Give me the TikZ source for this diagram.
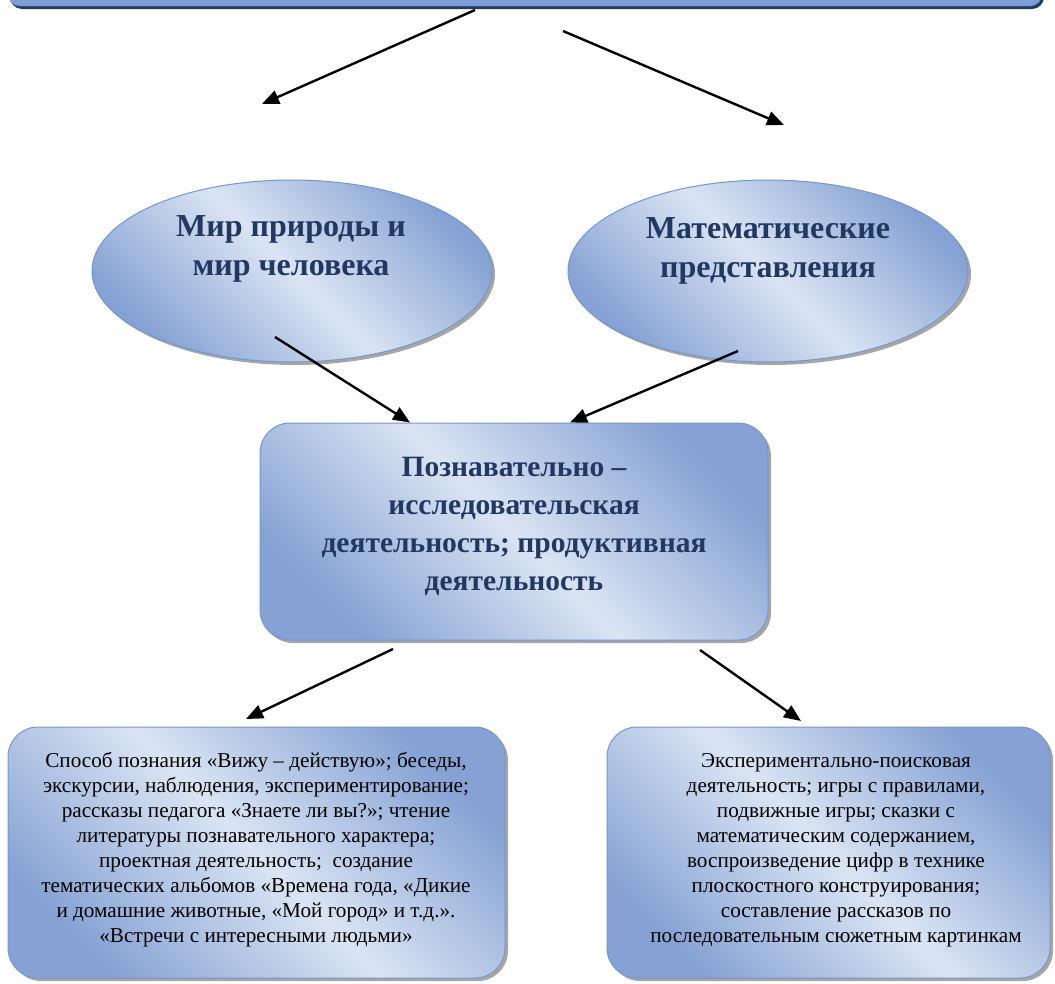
\documentclass[tikz,border=0pt]{standalone}
\usepackage{fontspec}
\setmainfont{Liberation Serif}
\usetikzlibrary{shapes.geometric,shadows,arrows.meta}
\definecolor{paleblue}{RGB}{218,228,243}
\definecolor{deepblue}{RGB}{134,162,212}
\definecolor{rimblue}{RGB}{118,150,207}
\definecolor{inkblue}{RGB}{34,56,96}
\definecolor{navy}{RGB}{36,58,94}
\definecolor{barblue}{RGB}{124,158,214}
\begin{document}
\begin{tikzpicture}[x=1pt,y=-1pt,
        bluefill/.style={draw=rimblue,line width=1pt,top color=deepblue,bottom color=deepblue,middle color=paleblue,shading angle=-45,
            drop shadow={shadow xshift=3pt,shadow yshift=-3pt,fill=black!50,opacity=0.7}},
        oval/.style={bluefill,ellipse,minimum width=400pt,minimum height=182pt,inner sep=0pt},
        roundbox/.style={bluefill,rounded corners=30pt,inner sep=0pt},
        headtext/.style={font=\bfseries\fontsize{29.5}{38}\selectfont,text=inkblue,align=center},
        ovaltext/.style={headtext,font=\bfseries\fontsize{32}{38.5}\selectfont},
        bodytext/.style={font=\fontsize{21.2}{25}\selectfont,align=center},
        arr/.style={line width=2.4pt,-{Triangle[length=17pt,width=14pt]}}]
    \useasboundingbox (0,0) rectangle (1055,983);
    \node[draw=rimblue,fill=barblue,rounded corners=12pt,minimum width=1034pt,minimum height=62pt,
        drop shadow={shadow xshift=2pt,shadow yshift=-3pt,fill=navy,opacity=1}] (root) at (525,-25) {};
    \node[oval] (nature) at (292,271) {};
    \node[oval] (maths) at (768,271) {};
    \node[ovaltext] (naturetext) at (291,249) {Мир природы и\\мир человека};
    \node[ovaltext] (mathstext) at (768,251) {Математические\\представления};
    \node[roundbox,minimum width=508pt,minimum height=217pt] (inquiry) at (514,531.5) {};
    \node[headtext] (inquirytext) at (514,526) {Познавательно –\\исследовательская\\деятельность; продуктивная\\деятельность};
    \node[roundbox,minimum width=497pt,minimum height=251pt] (ways) at (256.5,852.5) {};
    \node[roundbox,minimum width=443pt,minimum height=251pt] (games) at (828.5,852.5) {};
    \node[bodytext] (waystext) at (256,850) {Способ познания «Вижу – действую»; беседы,\\
        экскурсии, наблюдения, экспериментирование;\\
        рассказы педагога «Знаете ли вы?»; чтение\\
        литературы познавательного характера;\\
        проектная деятельность;\ \ создание\\
        тематических альбомов «Времена года, «Дикие\\
        и домашние животные, «Мой город» и т.д.».\\
        «Встречи с интересными людьми»};
    \node[bodytext] (gamestext) at (836,850) {Экспериментально-поисковая\\
        деятельность; игры с правилами,\\
        подвижные игры; сказки с\\
        математическим содержанием,\\
        воспроизведение цифр в технике\\
        плоскостного конструирования;\\
        составление рассказов по\\
        последовательным сюжетным картинкам};
    \coordinate (t1) at (475,10);
    \coordinate (h1) at (262,104);
    \coordinate (t2) at (563,31);
    \coordinate (h2) at (784,125);
    \coordinate (t3) at (275,337);
    \coordinate (t4) at (738,351);
    \coordinate (t5) at (393,649);
    \coordinate (h5) at (246,719);
    \coordinate (t6) at (700,650);
    \coordinate (h6) at (801,721);
    \foreach \a/\b in {t1/h1,t2/h2,t5/h5,t6/h6}
        {\draw[arr] (\a) -- (\b);}
    \draw[arr] (t3) -- ([xshift=-104pt]inquiry.north);
    \draw[arr] (t4) -- ([xshift=56pt]inquiry.north);
\end{tikzpicture}
\end{document}
